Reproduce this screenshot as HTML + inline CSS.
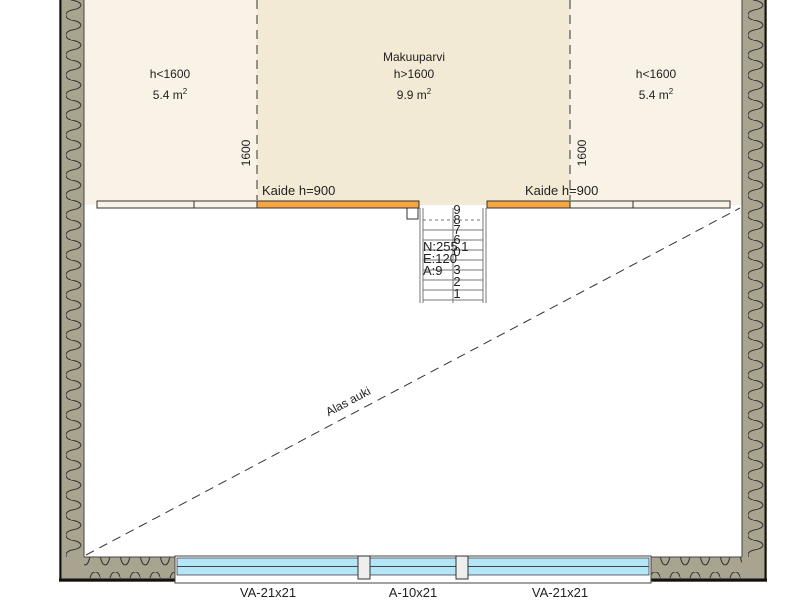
<!DOCTYPE html>
<html><head><style>body{margin:0;background:#fff}svg{display:block}text{font-family:"Liberation Sans",sans-serif;fill:#222}</style></head><body>
<svg width="800" height="600" viewBox="0 0 800 600" xmlns="http://www.w3.org/2000/svg">
<defs>
<pattern id="wv" width="22" height="20" patternUnits="userSpaceOnUse">
<path d="M5 0 C18 2,18 8,6 10 C-2 12,-2 18,5 20" fill="none" stroke="#333" stroke-width="1"/>
</pattern>
<pattern id="wh" width="20" height="22" patternUnits="userSpaceOnUse">
<path d="M0 5 C2 18,8 18,10 6 C12 -2,18 -2,20 5" fill="none" stroke="#333" stroke-width="1"/>
</pattern>
</defs>
<rect x="84" y="0" width="658" height="205" fill="#f8f3e6"/>
<rect x="257" y="0" width="313" height="205" fill="#f2ead4"/>
<!-- walls -->
<rect x="59" y="0" width="25" height="582" fill="#a9a48f"/>
<rect x="62" y="0" width="22" height="578" fill="url(#wv)"/>
<rect x="742" y="0" width="25" height="582" fill="#a9a48f"/>
<rect x="742" y="0" width="22" height="578" fill="url(#wv)"/>
<rect x="59" y="557" width="708" height="25" fill="#a9a48f"/>
<rect x="84" y="557" width="658" height="21" fill="url(#wh)"/>
<line x1="60.5" y1="0" x2="60.5" y2="580" stroke="#111" stroke-width="2"/>
<line x1="765.5" y1="0" x2="765.5" y2="580" stroke="#111" stroke-width="2"/>
<line x1="59" y1="580" x2="767" y2="580" stroke="#111" stroke-width="3"/>
<line x1="84" y1="0" x2="84" y2="557" stroke="#444"/>
<line x1="742" y1="0" x2="742" y2="557" stroke="#444"/>
<line x1="84" y1="557" x2="742" y2="557" stroke="#444"/>
<!-- window -->
<rect x="175" y="556" width="476" height="27" fill="#fff" stroke="#444"/>
<rect x="177" y="558" width="472" height="17" fill="#b3e6f7" stroke="#444" stroke-width="0.8"/>
<line x1="177" y1="566.5" x2="649" y2="566.5" stroke="#444"/>
<rect x="358" y="556" width="12" height="23" fill="#eee" stroke="#333"/>
<rect x="456" y="556" width="12" height="23" fill="#eee" stroke="#333"/>
<text x="268" y="597" font-size="13" text-anchor="middle">VA-21x21</text>
<text x="413" y="597" font-size="13" text-anchor="middle">A-10x21</text>
<text x="560" y="597" font-size="13" text-anchor="middle">VA-21x21</text>
<!-- dashed -->
<line x1="257" y1="0" x2="257" y2="200" stroke="#333" stroke-dasharray="9,6"/>
<line x1="570" y1="0" x2="570" y2="200" stroke="#333" stroke-dasharray="9,6"/>
<line x1="86" y1="555" x2="740" y2="208" stroke="#333" stroke-dasharray="9,6"/>
<text transform="translate(350,405) rotate(-28)" font-size="12" text-anchor="middle">Alas auki</text>
<!-- balustrade -->
<rect x="97" y="201" width="160" height="7" fill="#f8f3e6" stroke="#333"/>
<line x1="194" y1="201" x2="194" y2="208" stroke="#333"/>
<rect x="257" y="201" width="162" height="7" fill="#f6a540" stroke="#333"/>
<rect x="487" y="201" width="83" height="7" fill="#f6a540" stroke="#333"/>
<rect x="570" y="201" width="160" height="7" fill="#f8f3e6" stroke="#333"/>
<line x1="633" y1="201" x2="633" y2="208" stroke="#333"/>
<rect x="407" y="208" width="11" height="11" fill="#fff" stroke="#333"/>
<!-- stair -->
<g stroke="#777" stroke-width="1">
<line x1="420" y1="208" x2="420" y2="303"/><line x1="423" y1="208" x2="423" y2="303"/>
<line x1="483" y1="208" x2="483" y2="303"/><line x1="486" y1="208" x2="486" y2="303"/>
<line x1="453" y1="208" x2="453" y2="303"/>
<line x1="423" y1="230" x2="483" y2="230"/><line x1="423" y1="240" x2="483" y2="240"/>
<line x1="423" y1="250" x2="483" y2="250"/><line x1="423" y1="260" x2="483" y2="260"/>
<line x1="423" y1="270" x2="483" y2="270"/><line x1="423" y1="280" x2="483" y2="280"/>
<line x1="423" y1="290" x2="483" y2="290"/><line x1="423" y1="300" x2="483" y2="300"/>
<line x1="423" y1="220" x2="483" y2="220" stroke-dasharray="3,3"/>
</g>
<g font-size="13" text-anchor="middle">
<text x="457" y="214">9</text><text x="457" y="224">8</text><text x="457" y="234">7</text>
<text x="457" y="244">6</text><text x="457" y="256">0</text><text x="457" y="274">3</text>
<text x="457" y="286">2</text><text x="457" y="298">1</text>
</g>
<text x="423" y="251" font-size="13">N:255.1</text>
<text x="423" y="263" font-size="13">E:120</text>
<text x="423" y="275" font-size="13">A:9</text>
<!-- labels -->
<g font-size="12" text-anchor="middle">
<text x="170" y="78">h&lt;1600</text><text x="170" y="99">5.4 m<tspan font-size="8" dy="-5">2</tspan></text>
<text x="414" y="61">Makuuparvi</text><text x="414" y="78">h&gt;1600</text><text x="414" y="99">9.9 m<tspan font-size="8" dy="-5">2</tspan></text>
<text x="656" y="78">h&lt;1600</text><text x="656" y="99">5.4 m<tspan font-size="8" dy="-5">2</tspan></text>
</g>
<text transform="translate(250,153) rotate(-90)" font-size="12" text-anchor="middle">1600</text>
<text transform="translate(586,153) rotate(-90)" font-size="12" text-anchor="middle">1600</text>
<text x="262" y="195" font-size="13">Kaide h=900</text>
<text x="525" y="195" font-size="13">Kaide h=900</text>
</svg>
</body></html>
